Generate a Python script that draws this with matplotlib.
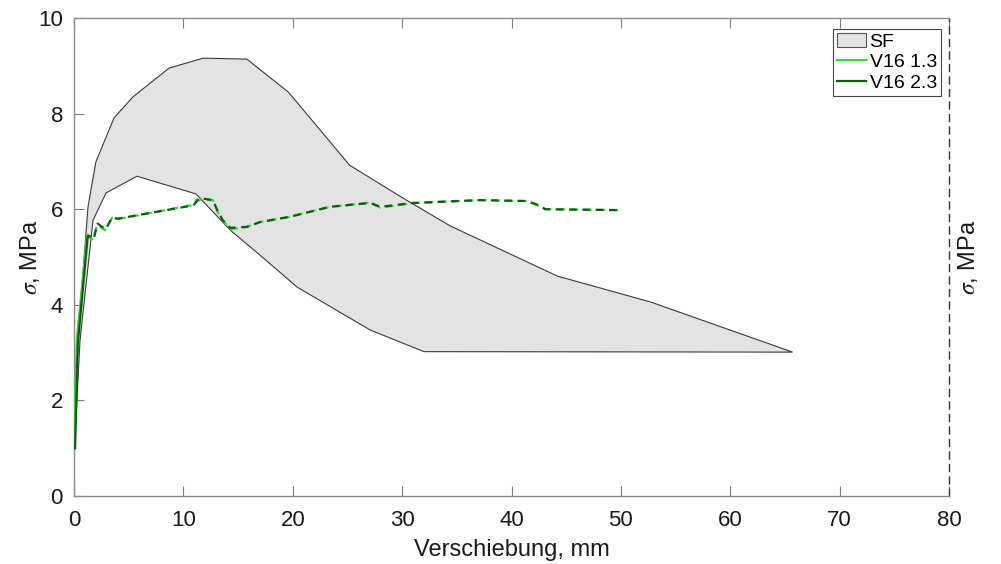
import matplotlib
matplotlib.use("Agg")
import matplotlib.pyplot as plt
from matplotlib.patches import Patch
from matplotlib.lines import Line2D
import numpy as np

plt.rcParams['font.family'] = ['Liberation Sans', 'DejaVu Sans']
plt.rcParams['mathtext.fontset'] = 'stix'

# SF band: upper and lower boundaries
sf_upper_x = [0.0, 0.37, 1.28, 2.0, 2.83, 3.66, 5.39, 8.68, 11.8, 15.8, 19.6, 25.2, 30.1, 34.4, 44.2, 52.7, 65.7]
sf_upper_y = [0.8, 3.33, 6.05, 6.99, 7.45, 7.91, 8.35, 8.95, 9.16, 9.14, 8.45, 6.92, 6.23, 5.65, 4.6, 4.06, 3.01]
sf_lower_x = [0.0, 0.55, 1.74, 2.93, 5.76, 11.15, 14.3, 17.0, 20.4, 27.1, 32.0, 65.7]
sf_lower_y = [0.8, 3.26, 5.77, 6.34, 6.69, 6.32, 5.56, 5.04, 4.37, 3.47, 3.02, 3.01]

# V16 1.3 (light green)
v13_rise_x = [0.0, 0.27, 1.19]
v13_rise_y = [1.4, 3.3, 5.46]
v13_x = [1.19, 1.28, 1.74, 2.1, 2.83, 3.47, 3.93, 10.9, 11.2, 12.7, 13.3, 14.3, 15.8, 17.0, 19.7, 23.4, 27.1, 28.0, 31.0, 37.1, 41.4, 42.3, 43.1, 50.1]
v13_y = [5.46, 5.42, 5.36, 5.67, 5.56, 5.82, 5.79, 6.09, 6.2, 6.19, 5.85, 5.58, 5.63, 5.73, 5.84, 6.05, 6.14, 6.03, 6.13, 6.19, 6.17, 6.09, 6.0, 5.98]

# V16 2.3 (dark green)
v23_rise_x = [0.1, 0.35, 1.25]
v23_rise_y = [1.0, 3.2, 5.42]
v23_x = [1.25, 1.3, 1.8, 2.15, 2.9, 3.5, 3.95, 10.9, 11.5, 12.7, 13.1, 13.6, 14.3, 15.8, 17.0, 19.7, 23.4, 27.1, 28.0, 31.0, 37.1, 41.4, 42.3, 43.1, 50.1]
v23_y = [5.42, 5.45, 5.38, 5.7, 5.58, 5.83, 5.8, 6.08, 6.23, 6.19, 5.98, 5.77, 5.61, 5.63, 5.73, 5.84, 6.05, 6.13, 6.05, 6.13, 6.19, 6.17, 6.1, 6.0, 5.98]

x_ticks = [0, 10, 20, 30, 40, 50, 60, 70, 80]
y_ticks = [0, 2, 4, 6, 8, 10]

light = '#2ee02e'
dark = '#0f5a14'
fill_c = '#e3e3e3'
edge_c = '#3a3a3a'

fig = plt.figure(figsize=(10.01, 5.64), dpi=100)
ax = fig.add_axes([74/1001, 1-496/564, (949-74)/1001, (496-18)/564])

poly_x = sf_upper_x + sf_lower_x[::-1]
poly_y = sf_upper_y + sf_lower_y[::-1]
ax.fill(poly_x, poly_y, facecolor=fill_c, edgecolor=edge_c, linewidth=0.8, zorder=1)

ax.plot(v13_rise_x, v13_rise_y, color=light, lw=1.6, zorder=3)
ax.plot(v13_x, v13_y, color=light, lw=1.6, ls=(0, (3.5, 2.5)), zorder=3)
ax.plot(v23_rise_x, v23_rise_y, color=dark, lw=1.6, zorder=4)
ax.plot(v23_x, v23_y, color=dark, lw=1.6, ls=(1.5, (3.5, 2.5)), zorder=4)

ax.set_xlim(0, 80)
ax.set_ylim(0, 10)
ax.set_xticks(x_ticks)
ax.set_yticks(y_ticks)
ax.tick_params(direction='in', length=7, width=0.8, color='#7a7a7a', labelsize=16,
               labelcolor='#1a1a1a', top=True)
ax.tick_params(axis='x', labeltop=False, pad=10)
ax.tick_params(axis='y', pad=8)
for s in ['left', 'bottom', 'top']:
    ax.spines[s].set_color('#8a8a8a')
    ax.spines[s].set_linewidth(1.0)
ax.spines['right'].set_linestyle((0, (5, 4)))
ax.spines['right'].set_color('#333333')
ax.spines['right'].set_linewidth(1.0)

ax.set_xlabel('Verschiebung, mm', fontsize=17, color='#1a1a1a', va='center')
ax.xaxis.set_label_coords(0.5, -(550 - 496) / 478)
ax.set_ylabel(r'$\sigma$, MPa', fontsize=17, color='#1a1a1a', va='center')
ax.yaxis.set_label_coords(-(74 - 30) / 875, 0.5)
fig.text(968/1001, 1-257/564, r'$\sigma$, MPa', rotation=90, fontsize=17,
         color='#1a1a1a', ha='center', va='center')

handles = [Patch(facecolor=fill_c, edgecolor='#555555', linewidth=0.8, label='SF'),
           Line2D([], [], color=light, lw=1.6, label='V16 1.3'),
           Line2D([], [], color=dark, lw=1.6, label='V16 2.3')]
leg = ax.legend(handles=handles, loc='upper right', bbox_to_anchor=(0.995, 0.985),
                fontsize=14, frameon=True, fancybox=False, framealpha=1,
                edgecolor='#444444', handlelength=1.5, handletextpad=0.2,
                borderpad=0.2, labelspacing=0.15, borderaxespad=0.2)
leg.get_frame().set_linewidth(0.8)

fig.savefig('out.png', dpi=100)
